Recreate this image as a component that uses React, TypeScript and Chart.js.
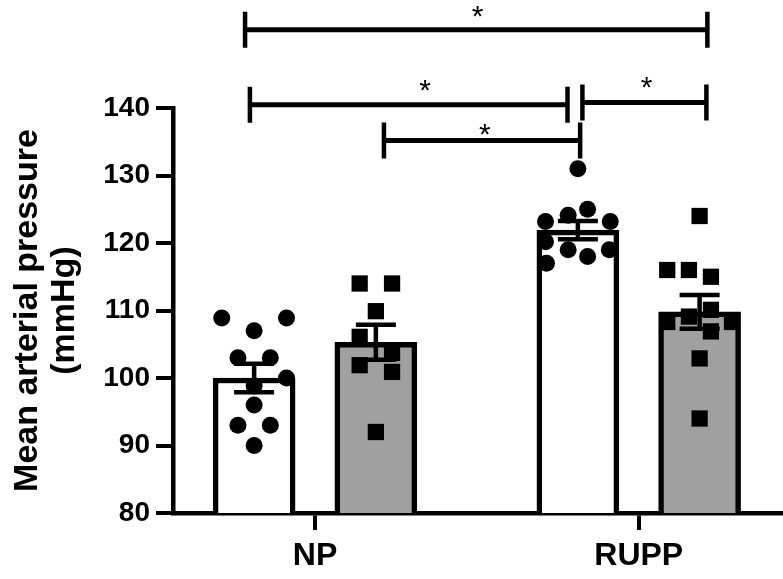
import React, { useEffect, useRef } from 'react';
import { Chart, registerables } from 'chart.js';
Chart.register(...registerables);

// ---- data ----
const categories = ['NP', 'RUPP'];
const meanWhite = [100.0, 121.9];
const meanGray = [105.3, 109.8];
const semWhite = [2.1, 1.35];
const semGray = [2.6, 2.5];

const npWhiteVals = [108.9, 108.9, 107.0, 103.0, 103.0, 100.0, 98.8, 96.0, 93.0, 93.0, 90.0];
const npWhiteJit = [-0.1, 0.1, 0, -0.05, 0.05, 0.1, 0, 0, -0.05, 0.05, 0];
const npGrayVals = [114.0, 114.0, 109.9, 106.1, 103.7, 101.9, 100.9, 92.0];
const npGrayJit = [-0.05, 0.05, 0, -0.05, 0.05, -0.05, 0.05, 0];
const ruppWhiteVals = [131.0, 125.0, 124.1, 123.2, 123.2, 120.2, 119.0, 118.0, 119.0, 117.0];
const ruppWhiteJit = [0, 0.03, -0.03, -0.1, 0.1, -0.1, -0.03, 0.03, 0.097, -0.097];
const ruppGrayVals = [124.0, 116.0, 116.0, 115.0, 110.1, 109.1, 108.3, 108.3, 106.9, 102.9, 94.0];
const ruppGrayJit = [0, -0.1, -0.033, 0.035, 0.035, -0.033, -0.1, 0.1, 0.035, 0, 0];

const yTicks = [80, 90, 100, 110, 120, 130, 140];

// significance brackets (x in category units, y in mmHg)
const bracketX1 = [-0.216, -0.201, 0.826, 0.213];
const bracketX2 = [1.212, 0.78, 1.209, 0.819];
const bracketY = [151.6, 140.5, 140.8, 135.2];
const starX = [0.502, 0.34, 1.024, 0.525];
const starY = [154.5, 143.6, 144.1, 137.1];
const starText = ['*', '*', '*', '*'];

// ---- layout constants ----
const GROUP_OFF = 0.188;
const X_MIN = -0.4386;
const X_MAX = 1.4456;
const FONT = '"Liberation Sans", Arial, Helvetica, sans-serif';

const pts = (vals: number[], jit: number[], cat: number, off: number) =>
  vals.map((v, i) => ({ x: cat + off + jit[i], y: v }));

const errorBarPlugin = {
  id: 'errorBars',
  afterDatasetsDraw(chart: any) {
    const ctx = chart.ctx;
    const y = chart.scales.y;
    const sets = [
      { idx: 0, mean: meanWhite, sem: semWhite },
      { idx: 1, mean: meanGray, sem: semGray },
    ];
    ctx.save();
    ctx.strokeStyle = '#000';
    ctx.lineWidth = 4.5;
    ctx.lineCap = 'butt';
    for (const s of sets) {
      const meta = chart.getDatasetMeta(s.idx);
      meta.data.forEach((el: any, i: number) => {
        const cx = el.x;
        const top = y.getPixelForValue(s.mean[i] + s.sem[i]);
        const bot = y.getPixelForValue(s.mean[i] - s.sem[i]);
        const half = 20;
        ctx.beginPath();
        ctx.moveTo(cx, top);
        ctx.lineTo(cx, bot);
        ctx.moveTo(cx - half, top);
        ctx.lineTo(cx + half, top);
        ctx.moveTo(cx - half, bot);
        ctx.lineTo(cx + half, bot);
        ctx.stroke();
      });
    }
    ctx.restore();
  },
};

const bracketPlugin = {
  id: 'brackets',
  afterDraw(chart: any) {
    const ctx = chart.ctx;
    const xs = chart.scales.x;
    const ys = chart.scales.y;
    ctx.save();
    ctx.strokeStyle = '#000';
    ctx.fillStyle = '#000';
    for (let i = 0; i < bracketY.length; i++) {
      const x1 = xs.getPixelForValue(bracketX1[i]);
      const x2 = xs.getPixelForValue(bracketX2[i]);
      const yy = ys.getPixelForValue(bracketY[i]);
      ctx.lineWidth = 5;
      ctx.beginPath();
      ctx.moveTo(x1, yy);
      ctx.lineTo(x2, yy);
      ctx.stroke();
      ctx.lineWidth = 4.5;
      ctx.beginPath();
      ctx.moveTo(x1, yy - 18);
      ctx.lineTo(x1, yy + 18);
      ctx.moveTo(x2, yy - 18);
      ctx.lineTo(x2, yy + 18);
      ctx.stroke();
      const fs = 30;
      ctx.font = `${fs}px ${FONT}`;
      ctx.textAlign = 'center';
      ctx.textBaseline = 'alphabetic';
      const sx = xs.getPixelForValue(starX[i]);
      const sy = ys.getPixelForValue(starY[i]);
      ctx.fillText(starText[i], sx, sy + 0.54 * fs);
    }
    ctx.restore();
  },
};

export default function App() {
  const ref = useRef<HTMLCanvasElement>(null);
  useEffect(() => {
    if (!ref.current) return;
    const chart = new Chart(ref.current, {
      type: 'bar',
      data: {
        datasets: [
          {
            type: 'bar',
            data: categories.map((_, i) => ({ x: i - GROUP_OFF, y: meanWhite[i] })),
            backgroundColor: '#ffffff',
            borderColor: '#000000',
            borderWidth: 5.5,
            borderSkipped: 'start',
            grouped: false,
            barThickness: 82,
            order: 3,
          },
          {
            type: 'bar',
            data: categories.map((_, i) => ({ x: i + GROUP_OFF, y: meanGray[i] })),
            backgroundColor: '#a0a0a0',
            borderColor: '#000000',
            borderWidth: 5.5,
            borderSkipped: 'start',
            grouped: false,
            barThickness: 82,
            order: 3,
          },
          {
            type: 'scatter',
            data: [...pts(npWhiteVals, npWhiteJit, 0, -GROUP_OFF), ...pts(ruppWhiteVals, ruppWhiteJit, 1, -GROUP_OFF)],
            pointStyle: 'circle',
            pointRadius: 8.5,
            backgroundColor: '#000',
            borderWidth: 0,
            order: 1,
          },
          {
            type: 'scatter',
            data: [...pts(npGrayVals, npGrayJit, 0, GROUP_OFF), ...pts(ruppGrayVals, ruppGrayJit, 1, GROUP_OFF)],
            pointStyle: 'rect',
            pointRadius: 11.5,
            backgroundColor: '#000',
            borderWidth: 0,
            order: 1,
          },
        ] as any,
      },
      options: {
        responsive: false,
        animation: false,
        devicePixelRatio: 1,
        layout: { autoPadding: false, padding: { top: 108, right: 0, bottom: 0, left: 0 } },
        plugins: { legend: { display: false }, tooltip: { enabled: false } },
        scales: {
          x: {
            type: 'linear',
            min: X_MIN,
            max: X_MAX,
            offset: false,
            afterBuildTicks: (s: any) => {
              s.ticks = categories.map((_, i) => ({ value: i }));
            },
            afterFit: (s: any) => {
              s.height = 66;
              s.paddingLeft = 0;
              s.paddingRight = 0;
            },
            grid: {
              display: true,
              drawOnChartArea: false,
              drawTicks: true,
              tickLength: 17,
              lineWidth: 4,
              color: '#000',
              offset: false,
            },
            border: { display: true, width: 4.5, color: '#000' },
            ticks: {
              callback: (v: any) => categories[v] ?? '',
              font: { family: FONT, size: 32, weight: 'bold' },
              color: '#000',
              padding: 7,
              maxRotation: 0,
              autoSkip: false,
            },
          },
          y: {
            type: 'linear',
            min: 80,
            max: 140,
            afterBuildTicks: (s: any) => {
              s.ticks = yTicks.map((v) => ({ value: v }));
            },
            afterFit: (s: any) => {
              s.width = 173;
              s.paddingTop = 0;
              s.paddingBottom = 0;
            },
            grid: {
              display: true,
              drawOnChartArea: false,
              drawTicks: true,
              tickLength: 17,
              lineWidth: 4,
              color: '#000',
            },
            border: { display: true, width: 4.5, color: '#000' },
            ticks: {
              font: { family: FONT, size: 28, weight: 'bold' },
              color: '#000',
              padding: 6,
            },
            title: {
              display: true,
              text: ['Mean arterial pressure', '(mmHg)'],
              font: { family: FONT, size: 34, weight: 'bold', lineHeight: 1.09 },
              color: '#000',
              padding: { top: 9, bottom: 0 },
            },
          },
        },
      } as any,
      plugins: [errorBarPlugin, bracketPlugin],
    });
    return () => chart.destroy();
  }, []);
  return (
    <div style={{ position: 'absolute', left: 0, top: 0, width: 783, height: 579, background: '#fff' }}>
      <canvas ref={ref} width={783} height={579} style={{ display: 'block' }} />
    </div>
  );
}
